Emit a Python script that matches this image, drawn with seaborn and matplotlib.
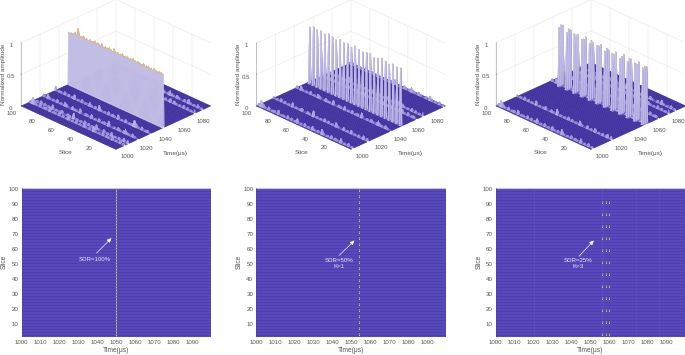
import numpy as np
import matplotlib
matplotlib.use("Agg")
import matplotlib.pyplot as plt
from matplotlib.colors import LinearSegmentedColormap, to_rgba
from mpl_toolkits.mplot3d import proj3d
import seaborn as sns

sns.set_theme(style="white")
plt.rcParams['font.family'] = ['Liberation Sans', 'DejaVu Sans']

# ---------- data ----------
time_ticks_3d = [1000, 1020, 1040, 1060, 1080]
slice_ticks_3d = [20, 40, 60, 80, 100]
amp_ticks = [0, 0.5, 1]
amp_labels = ['0', '0.5', '1']
time_ticks_2d = [1000, 1010, 1020, 1030, 1040, 1050, 1060, 1070, 1080, 1090]
slice_ticks_2d = [10, 20, 30, 40, 50, 60, 70, 80, 90, 100]

# ridge height along slices 0..100 for the SDR=100% pulse at 1050 us
wall_amp = [.85,.84,.86,.83,.87,.84,.85,.83,.86,.85,.88,.84,.83,.86,.84,.85,.87,.84,.86,.83,
            .85,.88,.84,.85,.83,.86,.84,.87,.85,.83,.86,.84,.88,.85,.84,.86,.83,.85,.87,.84,
            .86,.85,.83,.88,.84,.86,.85,.83,.87,.85,.84,.86,.90,.85,.83,.86,.84,.88,.85,.86,
            .84,.87,.85,.83,.86,.89,.85,.84,.86,.87,.84,.85,.88,.83,.86,.85,.84,.87,.85,.83,
            .84,.86,.83,.85,.88,.84,.86,.83,.85,.90,.96,.86,.84,.87,.85,.83,.83,.84,.82,.82,.83]
wall_time = 1050
# SDR=50 %, K=1
pulse50_time = 1054
pulse50_slices = [1, 5, 9, 13, 17, 21, 25, 29, 33, 37, 41, 45, 49, 53, 57, 61, 65, 69, 73, 77, 81, 85, 89, 93, 97]
pulse50_amp = [.91, .90, .92, .89, .91, .93, .90, .88, .92, .91, .89, .90, .93, .88, .91, .90, .92, .89, .91, .93, .90, .92, .91, .93, .90]
# SDR=25 %, K=3
pulse25_times = [1056, 1058, 1060]
pulse25_slices = [1, 9, 17, 25, 33, 41, 49, 57, 65, 73, 81, 89]
pulse25_amp = [[.90, .92, .89, .88, .91, .89, .92, .90, .91, .94, .91, .93],
               [.91, .89, .92, .90, .88, .92, .90, .93, .90, .91, .95, .96],
               [.89, .91, .90, .92, .90, .88, .91, .89, .92, .90, .92, .94]]

# low-amplitude profiles along the slice direction (every 2 slices)
profile_a = [.03,.02,.05,.02,.03,.02,.07,.02,.03,.04,.02,.05,.02,.03,.02,.03,.08,.02,.04,.02,.03,.06,.02,.03,.02,
             .05,.02,.03,.02,.07,.03,.02,.04,.02,.05,.02,.03,.03,.02,.07,.02,.04,.03,.02,.05,.02,.03,.06,.10,.04,.02]
profile_b = [.02,.04,.02,.03,.02,.06,.02,.03,.02,.05,.02,.02,.03,.07,.02,.03,.02,.04,.02,.05,.02,.03,.02,.03,.02,
             .09,.02,.03,.04,.02,.02,.05,.03,.02,.03,.02,.07,.02,.03,.02,.04,.02,.05,.02,.03,.02,.03,.05,.02,.06,.03]
profile_c = [.04,.02,.03,.05,.02,.03,.02,.02,.08,.02,.04,.03,.02,.05,.02,.03,.02,.06,.02,.03,.04,.02,.02,.07,.02,
             .03,.03,.05,.02,.02,.04,.06,.02,.03,.02,.05,.02,.03,.02,.03,.07,.02,.04,.02,.02,.03,.05,.02,.03,.04,.08]

strips_100 = [1009, 1013, 1023, 1036, 1083, 1091]
strips_50 = [1002, 1018, 1042, 1069, 1076, 1098]
strips_25 = [1002, 1022, 1058, 1071, 1082, 1089]
faint_50 = []
faint_25 = [1020, 1056, 1074, 1086]

FLOOR = '#38279c'
SIDE = '#7d72d8'
surf_cmap = LinearSegmentedColormap.from_list(
    'surf', [(0, FLOOR), (.004, FLOOR), (.012, '#9a92dc'), (.05, '#c4bfea'), (.5, '#c2bde4'), (1, '#c8c4e0')])
flat_cmap = LinearSegmentedColormap.from_list(
    'flat', [(0, '#4d3eb2'), (.12, '#5a4dbc'), (.3, '#7d8fc0'), (1, '#c4dc48')])
TXT = '#555555'
FS = 4.4

W, H = 685, 355
fig = plt.figure(figsize=(W / 100, H / 100), dpi=100)


def grid3d():
    return np.arange(1000, 1101), np.arange(0, 101)


def profiles_matrix(strips):
    t, s = grid3d()
    Z = np.zeros((s.size, t.size))
    plist = [profile_a, profile_b, profile_c]
    for i, st in enumerate(strips):
        prof = np.repeat(plist[i % 3], 2)[:s.size]
        prof = np.roll(prof, 7 * i)
        j = st - 1000
        Z[:, j] = np.maximum(Z[:, j], prof)
    return Z


def fit_box(ax, left_px, right_px, floor_y_px, aspect):
    S = 300.0
    ax.set_position([0.1, 0.1, S / W, S / H])
    ax.set_box_aspect(aspect, zoom=1)

    def proj(x, y, z):
        xp, yp, _ = proj3d.proj_transform(x, y, z, ax.get_proj())
        return xp, yp
    x0, x1 = ax.viewLim.intervalx
    y0, y1 = ax.viewLim.intervaly
    xl, _ = proj(1000, 100, 0)
    xr, _ = proj(1100, 0, 0)
    zoom = (right_px - left_px) / (S * (xr - xl) / (x1 - x0))
    ax.set_box_aspect(aspect, zoom=zoom)
    xl, yl = proj(1000, 100, 0)
    L = left_px - S * (xl - x0) / (x1 - x0)
    B = (H - floor_y_px) - S * (yl - y0) / (y1 - y0)
    ax.set_position([L / W, B / H, S / W, S / H])


def panel3d(Z, tops, geom):
    ax = fig.add_axes([0.1, 0.1, 0.4, 0.4], projection='3d', computed_zorder=False)
    ax.set_proj_type('ortho')
    ax.view_init(elev=27.25, azim=-135)
    ax.set_xlim(1000, 1100)
    ax.set_ylim(0, 100)
    ax.set_zlim(0, 1)
    fit_box(ax, geom[0], geom[1], 106, (1, 1, .5275))
    ax.patch.set_alpha(0)
    t, s = grid3d()
    T, S = np.meshgrid(t, s)
    mean = Z.copy()
    mean[:-1, :-1] = (Z[:-1, :-1] + Z[1:, :-1] + Z[:-1, 1:] + Z[1:, 1:]) / 4
    colors = surf_cmap(mean)
    rising = np.zeros(Z.shape, bool)
    rising[:-1, :-1] = (Z[1:, :-1] + Z[1:, 1:] - Z[:-1, :-1] - Z[:-1, 1:]) > .3
    colors[rising] = to_rgba(SIDE)
    ax.plot_surface(T, S, Z, facecolors=colors, rstride=1, cstride=1,
                    shade=False, linewidth=.15, zorder=1)
    for tx, sx, zx in tops:
        ax.plot(tx, sx, zx, color='#e6b65a', lw=.5, zorder=2)
    for axis in (ax.xaxis, ax.yaxis, ax.zaxis):
        axis.set_pane_color((1, 1, 1, 1))
        axis.pane.set_edgecolor('white')
        axis._axinfo['grid'].update(color='#e8e8e8', linewidth=.4)
        axis._axinfo['tick'].update(inward_factor=0, outward_factor=.05)
        axis._axinfo['tick']['linewidth'] = {True: .4, False: .2}
        axis.line.set_color('#9a9a9a')
        axis.line.set_linewidth(.4)
    ax.zaxis.set_ticks_position('upper')
    ax.xaxis.line.set_visible(False)
    ax.yaxis.line.set_visible(False)
    ax.set_xticks(time_ticks_3d)
    ax.set_yticks(slice_ticks_3d)
    ax.set_zticks(amp_ticks)
    ax.set_zticklabels(amp_labels)
    ax.tick_params(axis='both', labelsize=FS, colors=TXT, pad=-3)
    ax.tick_params(axis='z', pad=-2)
    for lab in ax.get_xticklabels():
        lab.set_ha('left')
    for lab in ax.get_yticklabels():
        lab.set_ha('right')
    L = geom[0]
    for x_off, y_px, text, rot in ((154, 153, 'Time(μs)', 0), (45, 153, 'Slice', 0),
                                   (-17.5, 74.5, 'Normalized amplitude', 90)):
        ax.text2D((L + x_off) / W, 1 - y_px / H, text, transform=fig.transFigure, rotation=rot,
                  fontsize=FS + .2, color=TXT, ha='center', va='center')
    return ax


# ---------- top row ----------
Z1 = profiles_matrix(strips_100)
Z1[:, wall_time - 1000] = wall_amp
tops1 = [(np.full(101, wall_time), np.arange(101), np.array(wall_amp))]
panel3d(Z1, tops1, (21, 211))

Z2 = profiles_matrix(strips_50)
tops2 = []
for sl, a in zip(pulse50_slices, pulse50_amp):
    Z2[sl:sl + 2, pulse50_time - 1000] = a
    tops2.append(([pulse50_time] * 2, [sl, sl + 1], [a, a]))
panel3d(Z2, tops2, (256.3, 445.7))

Z3 = profiles_matrix(strips_25)
tops3 = []
for tm, amps in zip(pulse25_times, pulse25_amp):
    for sl, a in zip(pulse25_slices, amps):
        Z3[sl:sl + 2, tm - 1000] = a
        tops3.append(([tm] * 2, [sl, sl + 1], [a, a]))
panel3d(Z3, tops3, (496, 686))


# ---------- bottom row ----------
def panel2d(x_px, pulses, faint, text, txt_xy, tail, tip):
    ax = fig.add_axes([x_px / W, 1 - 337 / H, 189.5 / W, 149.3 / H])
    M = np.zeros((100, 200))
    for tf in faint:
        M[:, (tf - 1000) * 2] = .1
    for tm, rows in pulses:
        for r in rows:
            M[r:r + 2, (tm - 1000) * 2] = 1
    sns.heatmap(M, ax=ax, cmap=flat_cmap, vmin=0, vmax=1, cbar=False,
                xticklabels=False, yticklabels=False, rasterized=True)
    ax.invert_yaxis()
    ax.hlines(np.arange(0, 100), 0, 200, color='#5f52c0', lw=.5, alpha=.8, zorder=1)
    ax.hlines(99.6, 0, 200, color='#c9c5ea', lw=.8)
    ax.set_xlim(0, 200)
    ax.set_ylim(0, 99.6)
    ax.set_xticks([(t - 1000) * 2 for t in time_ticks_2d])
    ax.set_xticklabels(time_ticks_2d, rotation=0)
    ax.set_yticks([s - 1 for s in slice_ticks_2d])
    ax.set_yticklabels(slice_ticks_2d, rotation=0)
    ax.tick_params(labelsize=FS, colors=TXT, length=0, pad=2.2)
    ax.set_xlabel('Time(μs)', fontsize=FS + .4, color=TXT, labelpad=1.6)
    ax.set_ylabel('Slice', fontsize=FS + .4, color=TXT, labelpad=.2)
    for sp in ax.spines.values():
        sp.set_visible(False)
    to = lambda p: ((p[0] - 1000) * 2, p[1] - 1)
    ax.annotate('', xy=to(tip), xytext=to(tail),
                arrowprops=dict(arrowstyle='-|>,head_length=.22,head_width=.1', color='white', lw=.45,
                                shrinkA=0, shrinkB=0))
    ax.text(*to(txt_xy), text, color='#e9e7f7', fontsize=FS, ha='center', va='center', linespacing=1.05)


panel2d(21.5, [(1050, range(0, 100))], [], 'SDR=100%', (1038.8, 53), (1039.6, 57), (1047.5, 67))
panel2d(256.3, [(pulse50_time, pulse50_slices)], faint_50, 'SDR=50%\nK=1', (1043.7, 50), (1043.7, 55.4), (1051.8, 65.4))
panel2d(495.7, [(t, pulse25_slices) for t in pulse25_times], faint_25, 'SDR=25%\nK=3', (1043.7, 50), (1043.9, 54.8), (1051.8, 65.4))

fig.savefig('out.png', dpi=100)
